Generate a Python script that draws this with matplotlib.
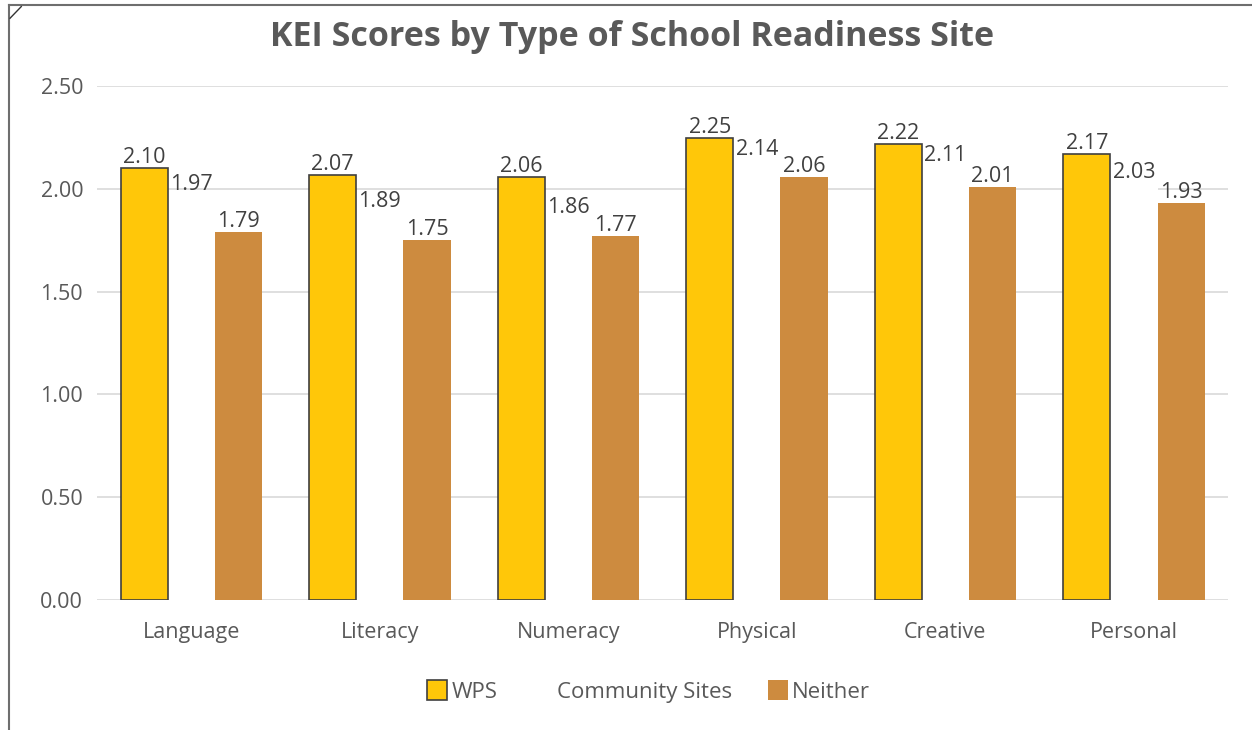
import matplotlib.pyplot as plt
import numpy as np
from matplotlib.lines import Line2D

categories = ["Language", "Literacy", "Numeracy", "Physical", "Creative", "Personal"]
wps = [2.10, 2.07, 2.06, 2.25, 2.22, 2.17]
community = [1.97, 1.89, 1.86, 2.14, 2.11, 2.03]
neither = [1.79, 1.75, 1.77, 2.06, 2.01, 1.93]

plt.rcParams["font.family"] = ["Open Sans", "DejaVu Sans"]
text_col = "#595959"
fs = 15.5

fig = plt.figure(figsize=(12.52, 7.30), dpi=100)
ax = fig.add_axes([0.0775, 0.178, 0.9035, 0.704])

x = np.arange(len(categories))
w = 0.25
b2 = ax.bar(x, community, w, color="white", edgecolor="none",
            label="Community Sites", zorder=2)
b1 = ax.bar(x - w, wps, w, color="#FFC709", edgecolor="#3F3F3F", linewidth=1.2,
            label="WPS", zorder=3)
b3 = ax.bar(x + w, neither, w, color="#CD8B3F", edgecolor="none",
            label="Neither", zorder=3)

for bars in (b1, b2, b3):
    ax.bar_label(bars, fmt="%.2f", padding=0, fontsize=fs, color="#404040", zorder=5)

ax.set_xlim(-0.5, len(categories) - 0.5)
ax.set_ylim(0, 2.5)
ax.set_yticks(np.arange(0, 2.51, 0.5))
ax.set_yticklabels([f"{v:.2f}" for v in np.arange(0, 2.51, 0.5)])
ax.set_xticks(x)
ax.set_xticklabels(categories)
ax.tick_params(axis="both", length=0, labelsize=fs, labelcolor=text_col)
ax.tick_params(axis="x", pad=16)
ax.tick_params(axis="y", pad=10)
ax.grid(axis="y", color="#D9D9D9", linewidth=1.2, zorder=0)
for s in ax.spines.values():
    s.set_visible(False)

fig.text(0.505, 0.949, "KEI Scores by Type of School Readiness Site",
         ha="center", va="center", fontsize=24.5, fontweight="bold", color=text_col)

handles = [b1, b2, b3]
fig.legend(handles=handles, labels=["WPS", "Community Sites", "Neither"],
           loc="center", bbox_to_anchor=(0.518, 0.053), ncol=3, frameon=False,
           fontsize=fs + 0.5, labelcolor=text_col, handlelength=0.9, handleheight=1.0,
           handletextpad=0.2, columnspacing=1.6)

# outer frame lines (left and top) and the little corner mark
fig.add_artist(Line2D([0.007, 0.007], [0.0, 0.993], color="#6E6E6E", linewidth=1.5))
fig.add_artist(Line2D([0.007, 1.0], [0.993, 0.993], color="#6E6E6E", linewidth=1.5))
fig.add_artist(Line2D([0.008, 0.017], [0.975, 0.991], color="#333333", linewidth=1.0))

fig.savefig("out.png", dpi=100, facecolor="white")
